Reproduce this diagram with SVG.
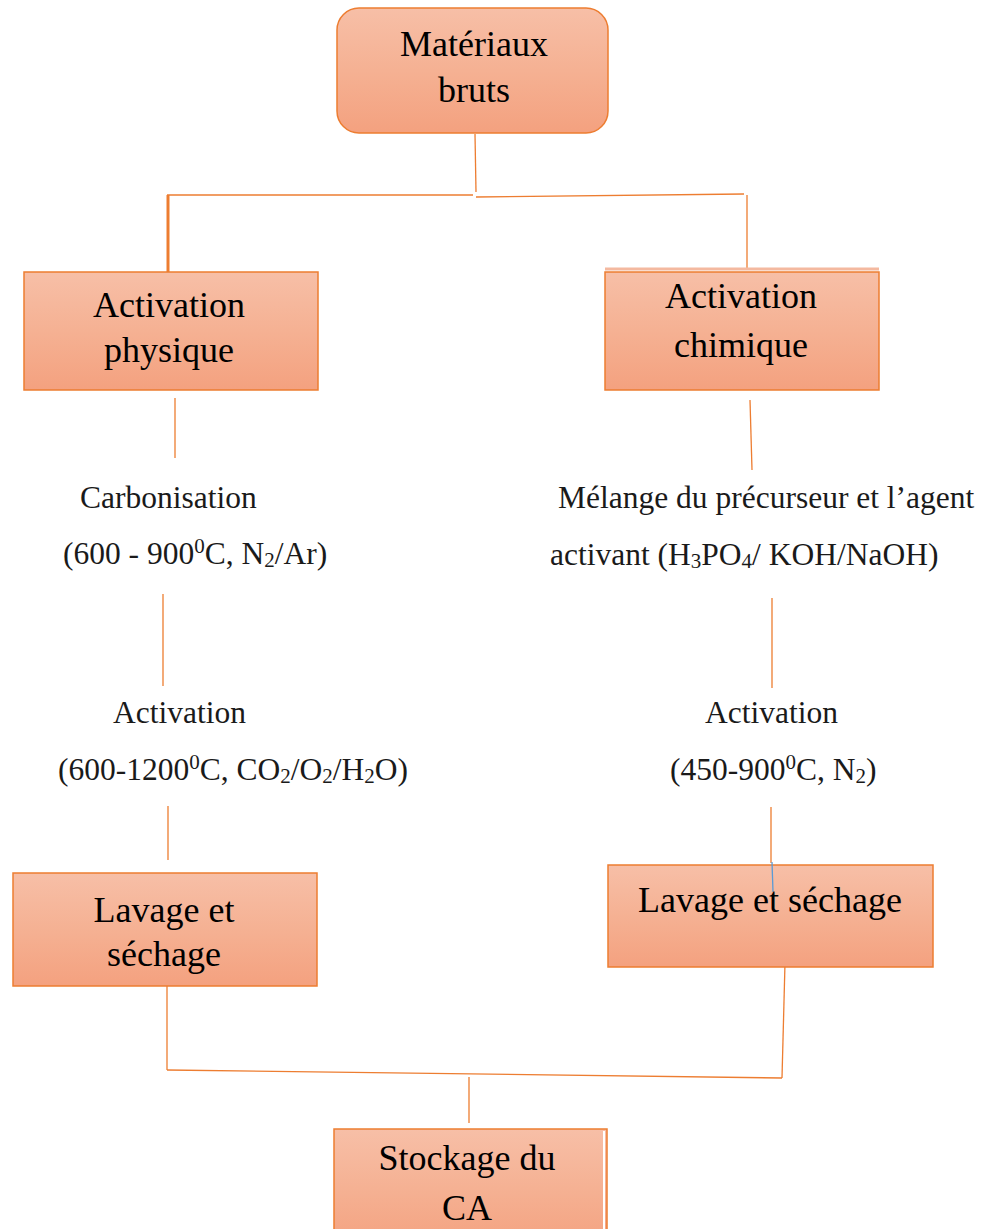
<svg xmlns="http://www.w3.org/2000/svg" width="982" height="1229" viewBox="0 0 982 1229">
<defs>
<linearGradient id="fill" x1="0" y1="0" x2="0" y2="1">
<stop offset="0" stop-color="#F7BFA7"/>
<stop offset="0.5" stop-color="#F5B193"/>
<stop offset="1" stop-color="#F4A17F"/>
</linearGradient>
<style>
.box{fill:url(#fill);stroke:#ED7D31;stroke-width:1.5}
.bt{font-family:"Liberation Serif","Times New Roman",serif;font-size:36px;fill:#000;text-anchor:middle}
.t{font-family:"Liberation Serif","Times New Roman",serif;font-size:31.5px;fill:#1a1a1a}
.sub{font-size:21px;baseline-shift:-3px}
.sup{font-size:21px;baseline-shift:11px}
.c{stroke:#ED7D31;stroke-width:1.3;fill:none}
</style>
</defs>
<rect width="982" height="1229" fill="#fff"/>
<g id="connectors">
<line class="c" x1="475" y1="134" x2="476" y2="192"/>
<line class="c" x1="167" y1="195" x2="473" y2="195"/>
<line class="c" x1="476" y1="197" x2="744" y2="194"/>
<line class="c" x1="168" y1="195" x2="168" y2="272" style="stroke-width:3"/>
<line class="c" x1="747" y1="195" x2="747" y2="268"/>
<line class="c" x1="175" y1="398" x2="175" y2="458"/>
<line class="c" x1="750" y1="400" x2="752" y2="470"/>
<line class="c" x1="163" y1="594" x2="163" y2="686"/>
<line class="c" x1="772" y1="598" x2="772" y2="688"/>
<line class="c" x1="168" y1="806" x2="168" y2="860"/>
<line class="c" x1="771" y1="807" x2="771" y2="863"/>
<line class="c" x1="167" y1="986" x2="167" y2="1070"/>
<line class="c" x1="785" y1="963" x2="782" y2="1078"/>
<line class="c" x1="167" y1="1070" x2="782" y2="1078"/>
<line class="c" x1="469" y1="1077" x2="469" y2="1123"/>
</g>
<g id="n-materiaux">
<rect class="box" x="337" y="8" width="271" height="125" rx="22"/>
<text class="bt" x="474" y="56">Matériaux</text>
<text class="bt" x="474" y="102">bruts</text>
</g>
<g id="n-act-phys">
<rect class="box" x="24" y="272" width="294" height="118"/>
<text class="bt" x="169" y="317">Activation</text>
<text class="bt" x="169" y="362">physique</text>
</g>
<g id="n-act-chim">
<line x1="605" y1="269" x2="879" y2="269" stroke="#F4B9A0" stroke-width="3"/>
<rect class="box" x="605" y="272" width="274" height="118"/>
<text class="bt" x="741" y="308">Activation</text>
<text class="bt" x="741" y="357">chimique</text>
</g>
<g id="n-carbonisation">
<text class="t" x="80" y="508">Carbonisation</text>
<text class="t" x="63" y="564">(600 - 900<tspan class="sup">0</tspan>C, N<tspan class="sub">2</tspan>/Ar)</text>
</g>
<g id="n-melange">
<text class="t" x="558" y="508">Mélange du précurseur et l’agent</text>
<text class="t" x="550" y="565">activant (H<tspan class="sub">3</tspan>PO<tspan class="sub">4</tspan>/ KOH/NaOH)</text>
</g>
<g id="n-activation-left">
<text class="t" x="113" y="723">Activation</text>
<text class="t" x="58" y="780">(600-1200<tspan class="sup">0</tspan>C, CO<tspan class="sub">2</tspan>/O<tspan class="sub">2</tspan>/H<tspan class="sub">2</tspan>O)</text>
</g>
<g id="n-activation-right">
<text class="t" x="705" y="723">Activation</text>
<text class="t" x="670" y="780">(450-900<tspan class="sup">0</tspan>C, N<tspan class="sub">2</tspan>)</text>
</g>
<g id="n-lavage-left">
<rect class="box" x="13" y="873" width="304" height="113"/>
<text class="bt" x="164" y="922">Lavage et</text>
<text class="bt" x="164" y="966">séchage</text>
</g>
<g id="n-lavage-right">
<rect class="box" x="608" y="865" width="325" height="102"/>
<line x1="772" y1="862" x2="773" y2="892" stroke="#5B9BD5" stroke-width="1.3"/>
<text class="bt" x="770" y="912">Lavage et séchage</text>
</g>
<g id="n-stockage">
<rect class="box" x="334" y="1129" width="273" height="120"/>
<line x1="604" y1="1131" x2="604" y2="1229" stroke="#fff" stroke-width="2"/>
<text class="bt" x="467" y="1170">Stockage du</text>
<text class="bt" x="467" y="1220">CA</text>
</g>
</svg>
